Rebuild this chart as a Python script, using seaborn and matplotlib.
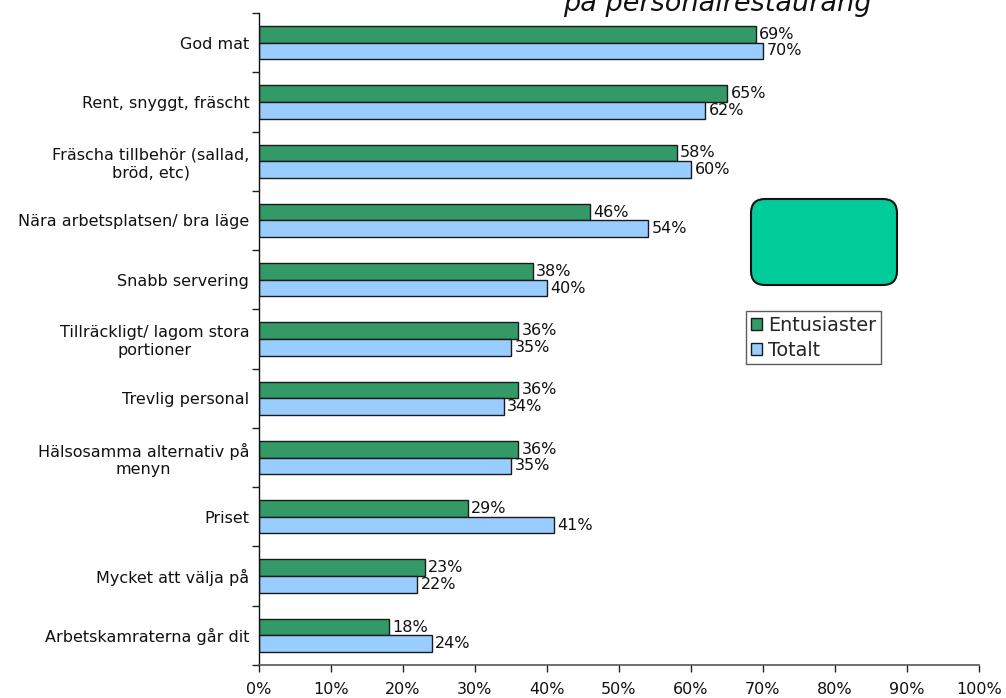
import matplotlib
matplotlib.use("Agg")
import matplotlib.pyplot as plt
from matplotlib.patches import FancyBboxPatch
from matplotlib.ticker import MultipleLocator, PercentFormatter
import pandas as pd
import seaborn as sns

# Reasons for choosing the staff restaurant (% of respondents)
categories = [
    "God mat",
    "Rent, snyggt, fräscht",
    "Fräscha tillbehör (sallad,\nbröd, etc)",
    "Nära arbetsplatsen/ bra läge",
    "Snabb servering",
    "Tillräckligt/ lagom stora\nportioner",
    "Trevlig personal",
    "Hälsosamma alternativ på\nmenyn",
    "Priset",
    "Mycket att välja på",
    "Arbetskamraterna går dit",
]
entusiaster = [69, 65, 58, 46, 38, 36, 36, 36, 29, 23, 18]
totalt = [70, 62, 60, 54, 40, 35, 34, 35, 41, 22, 24]
series_names = ["Entusiaster", "Totalt"]
series_colors = ["#339966", "#99CCFF"]
title = "på personalrestaurang"

df = pd.DataFrame({
    "kategori": categories * 2,
    "andel": entusiaster + totalt,
    "grupp": [series_names[0]] * len(categories) + [series_names[1]] * len(categories),
})

sns.set_theme(style="white")
plt.rcParams["font.family"] = ["DejaVu Sans"]

fig = plt.figure(figsize=(10.06, 6.98), dpi=100)
ax = fig.add_axes([259 / 1006, 1 - 665 / 698, 720 / 1006, 652 / 698])

sns.barplot(
    data=df, y="kategori", x="andel", hue="grupp", orient="h",
    palette=series_colors, width=0.56, edgecolor="#1a1a1a", linewidth=1.0,
    saturation=1.0, ax=ax,
)

for cont in ax.containers:
    ax.bar_label(cont, fmt="%d%%", padding=2.5, fontsize=11.5, color="#111111")

ax.set_xlim(0, 100)
ax.set_ylim(len(categories) - 0.5, -0.5)
ax.xaxis.set_major_locator(MultipleLocator(10))
ax.xaxis.set_major_formatter(PercentFormatter(decimals=0))
ax.set_xlabel("")
ax.set_ylabel("")

# Category ticks sit between the groups; labels stay centered on each group
ax.set_yticks(range(len(categories)))
ax.set_yticklabels(categories, fontsize=11.5, multialignment="center", color="#111111")
ax.tick_params(axis="y", which="major", length=0, pad=7)
ax.set_yticks([i - 0.5 for i in range(len(categories) + 1)], minor=True)
ax.tick_params(axis="y", which="minor", left=True, length=5, width=1, color="#222222")
ax.tick_params(axis="x", which="major", bottom=True, length=5, width=1,
               color="#222222", labelsize=11.5, labelcolor="#111111", pad=7)

for side in ("top", "right"):
    ax.spines[side].set_visible(False)
ax.spines["left"].set_color("#111111")
ax.spines["bottom"].set_color("#555555")
ax.spines["left"].set_linewidth(1.0)
ax.spines["bottom"].set_linewidth(1.2)

handles, labels = ax.get_legend_handles_labels()
ax.legend_.remove()
leg = fig.legend(
    handles, labels, loc="upper left",
    bbox_to_anchor=(746 / 1006, 1 - 311 / 698), bbox_transform=fig.transFigure,
    fontsize=13.8, frameon=True, fancybox=False, edgecolor="#333333",
    borderaxespad=0, handlelength=0.6, handleheight=0.6, handletextpad=0.3,
    labelspacing=0.3, borderpad=0.25,
)
leg.get_frame().set_linewidth(1.0)

# Empty rounded callout box
box = FancyBboxPatch((751, 698 - 285), 146, 86,
                     boxstyle="round,pad=0,rounding_size=14",
                     transform=None, facecolor="#00CC99", edgecolor="#111111",
                     linewidth=1.5, zorder=5)
fig.patches.append(box)

fig.text(717 / 1006, 1 - 11 / 698, title, ha="center", va="baseline",
         fontsize=19.5, fontstyle="italic", color="#111111")

fig.savefig("out.png", dpi=100)
